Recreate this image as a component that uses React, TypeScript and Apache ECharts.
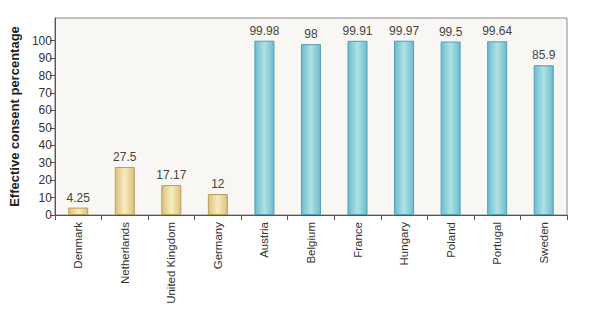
import React, { useEffect, useRef } from "react";
import * as echarts from "echarts";

const categories = [
  "Denmark",
  "Netherlands",
  "United Kingdom",
  "Germany",
  "Austria",
  "Belgium",
  "France",
  "Hungary",
  "Poland",
  "Portugal",
  "Sweden",
];
const values = [4.25, 27.5, 17.17, 12, 99.98, 98, 99.91, 99.97, 99.5, 99.64, 85.9];
const groups = ["opt-in", "opt-in", "opt-in", "opt-in", "opt-out", "opt-out", "opt-out", "opt-out", "opt-out", "opt-out", "opt-out"];
const yTicks = [0, 10, 20, 30, 40, 50, 60, 70, 80, 90, 100];

const yellowFill = new echarts.graphic.LinearGradient(0, 0, 1, 0, [
  { offset: 0, color: "#d9c27e" },
  { offset: 0.5, color: "#f6ecc0" },
  { offset: 1, color: "#d9c27e" },
]);
const blueFill = new echarts.graphic.LinearGradient(0, 0, 1, 0, [
  { offset: 0, color: "#6bbccf" },
  { offset: 0.5, color: "#b0e2e4" },
  { offset: 1, color: "#6bbccf" },
]);

export default function App() {
  const ref = useRef<HTMLDivElement>(null);
  useEffect(() => {
    if (!ref.current) return;
    const chart = echarts.init(ref.current, null, { renderer: "svg" });
    chart.setOption({
      animation: false,
      backgroundColor: "#ffffff",
      textStyle: { fontFamily: "Liberation Sans, Arial, sans-serif" },
      grid: {
        left: 53,
        right: 33,
        top: 18,
        bottom: 97,
        show: true,
        backgroundColor: "#f9f7f3",
        borderColor: "#8a8a8a",
        borderWidth: 1,
      },
      xAxis: {
        type: "category",
        data: categories,
        axisLine: { lineStyle: { color: "#555", width: 1 } },
        axisTick: { show: true, length: 5, lineStyle: { color: "#555" } },
        axisLabel: {
          rotate: 90,
          color: "#333",
          fontSize: 11.5,
          margin: 7,
          interval: 0,
        },
      },
      yAxis: {
        type: "value",
        min: 0,
        max: 113,
        name: "Effective consent percentage",
        nameLocation: "middle",
        nameGap: 33,
        nameTextStyle: { fontSize: 13, fontWeight: "bold", color: "#222" },
        splitLine: { show: false },
        axisLine: { show: true, lineStyle: { color: "#555", width: 1 } },
        axisTick: { show: true, length: 5, customValues: yTicks, lineStyle: { color: "#555" } },
        axisLabel: { color: "#333", fontSize: 12, margin: 3, customValues: yTicks },
      },
      series: [
        {
          type: "bar",
          barWidth: 20,
          data: values.map((v, i) => ({
            value: v,
            itemStyle: {
              color: groups[i] === "opt-in" ? yellowFill : blueFill,
              borderColor: groups[i] === "opt-in" ? "#b89d55" : "#4f9fb6",
              borderWidth: 1,
            },
          })),
          label: {
            show: true,
            position: "top",
            distance: 4,
            color: "#444",
            fontSize: 12,
          },
        },
      ],
    });
    return () => chart.dispose();
  }, []);
  return <div ref={ref} style={{ width: 600, height: 312, marginLeft: -8, marginTop: -8 }} />;
}
